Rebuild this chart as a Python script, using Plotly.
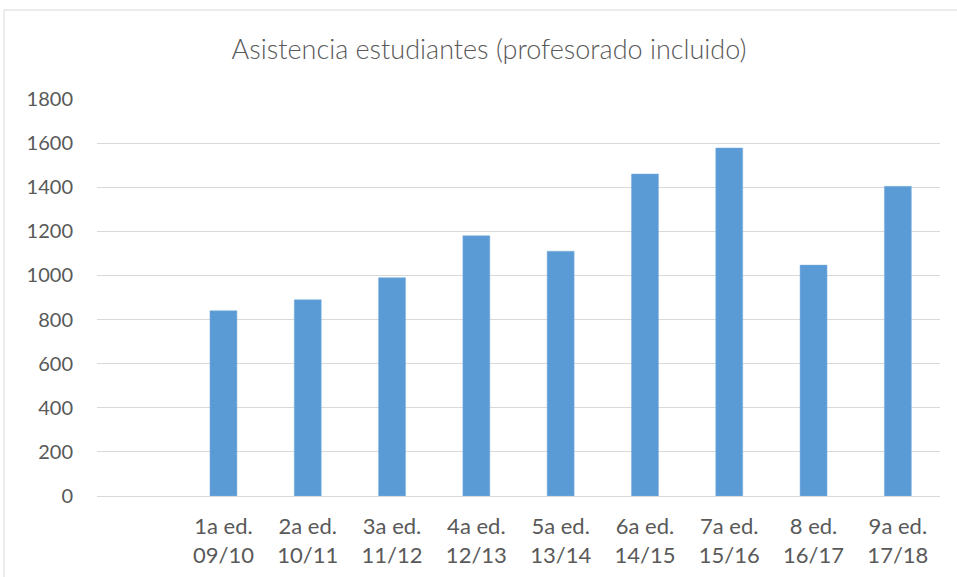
import plotly.graph_objects as go

categories = [" ", "1a ed.<br>09/10", "2a ed.<br>10/11", "3a ed.<br>11/12", "4a ed.<br>12/13",
              "5a ed.<br>13/14", "6a ed.<br>14/15", "7a ed.<br>15/16", "8 ed.<br>16/17", "9a ed.<br>17/18"]
bar_categories = categories[1:]
asistencia = [840, 890, 990, 1180, 1110, 1460, 1578, 1047, 1404]
y_ticks = [0, 200, 400, 600, 800, 1000, 1200, 1400, 1600, 1800]

FONT = "Lato, 'Open Sans', sans-serif"
GREY = "#595959"

fig = go.Figure(go.Bar(
    x=bar_categories, y=asistencia,
    marker=dict(color="#5b9bd5", line=dict(color="#7fb0de", width=0.5)),
    width=0.32,
))

fig.update_layout(
    width=957, height=577,
    margin=dict(l=97, r=17, t=99, b=81),
    paper_bgcolor="white", plot_bgcolor="white",
    showlegend=False,
    title=dict(text="Asistencia estudiantes (profesorado incluido)",
               x=489/957, xanchor="center", y=1-50/577, yanchor="middle",
               font=dict(family=FONT, size=27, color=GREY, weight=300)),
    font=dict(family=FONT, color=GREY, size=20),
    xaxis=dict(type="category", categoryorder="array", categoryarray=categories,
               range=[-0.5, 9.5], showgrid=False, showline=False, zeroline=False,
               automargin=False,
               ticks="outside", ticklen=11, tickcolor="rgba(0,0,0,0)",
               tickfont=dict(family=FONT, size=22, color=GREY)),
    yaxis=dict(range=[0, 1800], tickvals=y_ticks, showgrid=True, gridcolor="#d9d9d9",
               gridwidth=1, zeroline=True, zerolinecolor="#d9d9d9", zerolinewidth=1,
               automargin=False,
               showline=False, ticks="outside", ticklen=19, tickcolor="rgba(0,0,0,0)",
               tickfont=dict(family=FONT, size=20, color=GREY)),
    shapes=[dict(type="rect", xref="paper", yref="paper",
                 x0=(4-97)/843, x1=(965-97)/843, y0=(496-585)/397, y1=(496-10)/397,
                 line=dict(color="#d9d9d9", width=1), fillcolor="rgba(0,0,0,0)", layer="below")],
)

fig.write_html("out.html", config={"displayModeBar": False},
               post_script="document.body.style.margin='0';")
